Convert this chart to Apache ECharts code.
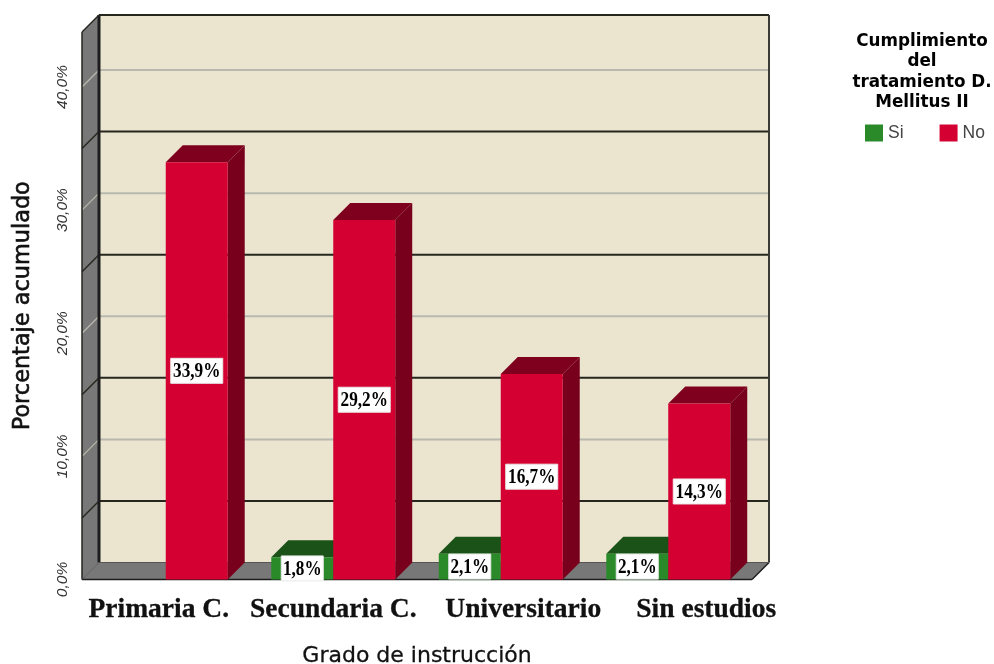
<!DOCTYPE html>
<html>
<head>
<meta charset="utf-8">
<style>html,body{margin:0;padding:0;background:#fff}#chart{width:994px;height:664px}</style>
<script src="https://cdn.jsdelivr.net/npm/echarts@6/dist/echarts.min.js"></script>
</head>
<body>
<div id="chart"></div>
<script>
// Grado de instrucción vs. cumplimiento del tratamiento (porcentaje acumulado)
const categories = ['Primaria C.', 'Secundaria C.', 'Universitario', 'Sin estudios'];
const siValues = [0, 1.8, 2.1, 2.1];
const noValues = [33.9, 29.2, 16.7, 14.3];
const labelledTicks = [10, 20, 30, 40];
const unlabelledTicks = [5, 15, 25, 35];

const DEPTH = 17;            // oblique offset of the back plane, px
const BAR_SHARE = 0.37;      // one bar's width as a share of the category band

const pct = v => v.toFixed(1).replace('.', ',') + '%';

function poly(points, fill, z) {
  return { type: 'polygon', z2: z || 0, shape: { points }, style: { fill, stroke: null } };
}
function seg(x1, y1, x2, y2, stroke, lineWidth, z) {
  return { type: 'line', z2: z || 1, shape: { x1, y1, x2, y2 }, style: { stroke, lineWidth } };
}

// Side wall, back wall, floor and their grid lines
function renderScene(params, api) {
  const c = params.coordSys;
  const l = c.x, r = c.x + c.width, t = c.y, b = c.y + c.height, d = DEPTH;
  const kids = [
    poly([[l, t], [l + d, t - d], [l + d, b - d], [l, b]], '#787878'),
    poly([[l + d, t - d], [r + d, t - d], [r + d, b - d], [l + d, b - d]], '#EBE5D0'),
    poly([[l, b], [r, b], [r + d, b - d], [l + d, b - d]], '#787878')
  ];
  const addLine = (v, colour, wallWidth) => {
    const y = api.coord([0, v])[1];
    kids.push(seg(l + d, y - d, r + d, y - d, colour, 2));
    kids.push(seg(l, y, l + d, y - d, colour, wallWidth));
  };
  labelledTicks.forEach(v => addLine(v, '#B9B8AE', 1.2));
  unlabelledTicks.forEach(v => addLine(v, '#26261E', 1.5));
  kids.push(seg(l + d, t - d, l + d, b - d, '#1C1C1C', 3, 2));
  kids.push(seg(l + d, t - d, r + d, t - d, '#26261E', 2, 2));
  kids.push(seg(r + d, t - d, r + d, b - d, '#3A3A36', 2, 2));
  kids.push(seg(l, t, l, b, '#26261E', 1.5, 2));
  kids.push(seg(l, t, l + d, t - d, '#26261E', 1.5, 2));
  kids.push(seg(l, b, r, b, '#1C1C1C', 1.5, 2));
  kids.push(seg(r, b, r + d, b - d, '#1C1C1C', 1.5, 2));
  kids.push(seg(l, b, l + d, b - d, '#555555', 1, 2));
  kids.push(seg(l + d, b - d, r + d, b - d, '#555555', 1, 2));
  return { type: 'group', children: kids };
}

// One oblique bar with its value box; side is -1 for Si and 0 for No
function barRenderer(side, front, top, flank) {
  return function (params, api) {
    const value = api.value(1);
    if (!value) return null;
    const base = api.coord([api.value(0), 0]);
    const head = api.coord([api.value(0), value]);
    const w = api.size([1, 0])[0] * BAR_SHARE;
    const x0 = base[0] + side * w, x1 = x0 + w, y0 = head[1], y1 = base[1], d = DEPTH;
    const mx = (x0 + x1) / 2, my = (y0 + y1) / 2;
    const wide = value >= 10;
    return {
      type: 'group',
      children: [
        poly([[x0, y0], [x0 + d, y0 - d], [x1 + d, y0 - d], [x1, y0]], top),
        poly([[x1, y0], [x1 + d, y0 - d], [x1 + d, y1 - d], [x1, y1]], flank),
        poly([[x0, y0], [x1, y0], [x1, y1], [x0, y1]], front),
        { type: 'rect', z2: 3, shape: { x: mx - (wide ? 26 : 21), y: my - 12.5, width: wide ? 52 : 42, height: 25 },
          style: { fill: '#fff', stroke: '#e8e8e8', lineWidth: 1 } },
        { type: 'text', z2: 4, x: mx, y: my + 1, scaleX: 0.86,
          style: { text: pct(value), fill: '#000', font: 'bold 20px "Liberation Serif"', align: 'center', verticalAlign: 'middle' } }
      ]
    };
  };
}

const chart = echarts.init(document.getElementById('chart'), null, { renderer: 'canvas' });
chart.setOption({
  animation: false,
  backgroundColor: '#fff',
  grid: { left: 82, right: 242, top: 32, bottom: 84.5, outerBoundsMode: 'none' },
  title: {
    text: 'Cumplimiento\ndel\ntratamiento D.\nMellitus II',
    left: 922, top: 31, padding: 0, textAlign: 'center',
    textStyle: { fontFamily: 'DejaVu Sans', fontWeight: 'bold', fontSize: 16.8, lineHeight: 20.6, color: '#000' }
  },
  legend: {
    data: ['Si', 'No'], left: 865, top: 124, padding: 0, itemWidth: 18, itemHeight: 17, itemGap: 36, icon: 'rect',
    textStyle: { fontFamily: 'Liberation Sans', fontSize: 17.5, color: '#444', padding: [6, 0, 0, 0] }
  },
  xAxis: {
    type: 'category', data: categories,
    name: 'Grado de instrucción', nameLocation: 'middle', nameGap: 66,
    nameTextStyle: { fontFamily: 'DejaVu Sans', fontSize: 22, color: '#111', textBorderColor: '#111', textBorderWidth: 0.3 },
    axisLine: { show: false }, axisTick: { show: false },
    axisLabel: {
      interval: 0, margin: 16, color: '#111',
      formatter: (v, i) => `{c${i}|${v}}`,
      rich: Object.fromEntries(categories.map((_, i) => [`c${i}`, {
        fontFamily: 'Liberation Serif', fontWeight: 'bold', fontSize: 27.5,
        textBorderColor: '#111', textBorderWidth: 0.3,
        padding: [[0, 14, 0, 0], [0, 0, 0, 0], [0, 0, 0, 45], [0, 0, 0, 76]][i]
      }]))
    }
  },
  yAxis: {
    type: 'value', min: 0, max: 44.47, interval: 10,
    name: 'Porcentaje acumulado', nameLocation: 'middle', nameGap: 48, nameRotate: 90,
    nameTextStyle: { fontFamily: 'DejaVu Sans', fontSize: 22.4, color: '#111', textBorderColor: '#111', textBorderWidth: 0.6 },
    axisLine: { show: false }, axisTick: { show: false }, splitLine: { show: false },
    axisLabel: {
      rotate: 90, margin: 11, showMaxLabel: false,
      fontFamily: 'Liberation Sans', fontStyle: 'italic', fontSize: 15.5, color: '#333',
      formatter: v => pct(v)
    }
  },
  series: [
    { type: 'custom', name: 'escena', silent: true, z: 1, renderItem: renderScene, data: [[0, 0]] },
    { type: 'custom', name: 'Si', z: 2, clip: false, itemStyle: { color: '#2A8A2A' },
      encode: { x: 0, y: 1 }, renderItem: barRenderer(-1, '#2A8A2A', '#1B5218', '#14401A'),
      data: siValues.map((v, i) => [i, v]) },
    { type: 'custom', name: 'No', z: 3, clip: false, itemStyle: { color: '#D50032' },
      encode: { x: 0, y: 1 }, renderItem: barRenderer(0, '#D50032', '#7E001E', '#78001C'),
      data: noValues.map((v, i) => [i, v]) }
  ]
});
</script>
</body>
</html>
